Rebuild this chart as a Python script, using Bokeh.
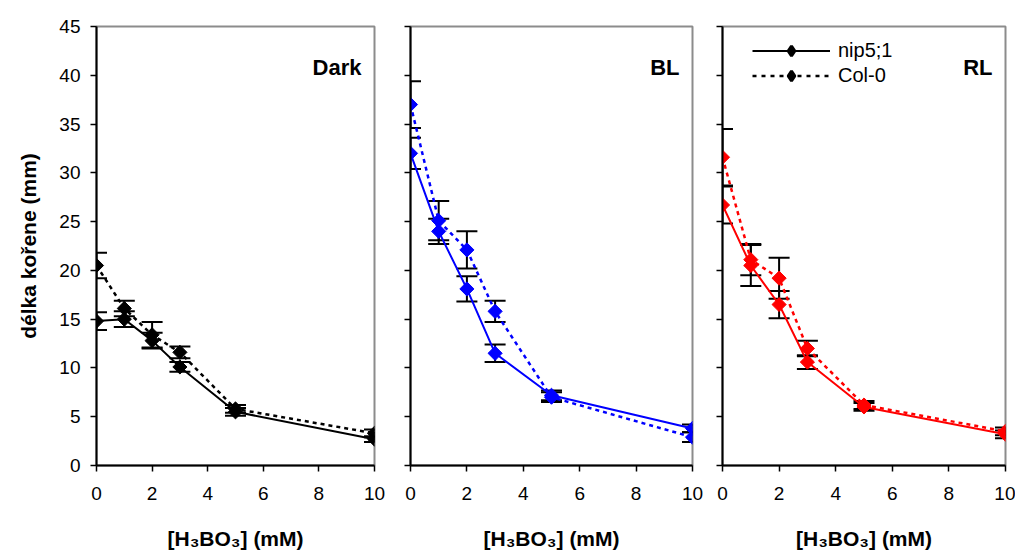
import math
from bokeh.plotting import figure
from bokeh.models import (Range1d, Whisker, TeeHead, ColumnDataSource, Label,
                          Legend, LegendItem, FixedTicker, CustomJSTickFormatter)
from bokeh.layouts import row
from bokeh.embed import file_html
from bokeh.resources import INLINE

# ---------------- data ----------------
conc = [0, 1, 2, 3, 5, 10]
panel_names = ["Dark", "BL", "RL"]
series_names = ["nip5;1", "Col-0"]

dark_nip = [14.8, 15.0, 12.8, 10.1, 5.5, 2.7]
dark_nip_err = [0.9, 0.8, 0.8, 0.5, 0.4, 0.3]
dark_col = [20.5, 16.1, 13.4, 11.6, 5.8, 3.3]
dark_col_err = [1.3, 0.8, 1.3, 0.6, 0.4, 0.4]

bl_nip = [32.0, 24.0, 18.1, 11.5, 7.2, 3.8]
bl_nip_err = [1.6, 1.3, 1.3, 0.9, 0.5, 0.4]
bl_col = [37.0, 25.1, 22.1, 15.8, 7.0, 2.9]
bl_col_err = [2.4, 2.0, 1.9, 1.1, 0.5, 0.5]

rl_nip = [26.7, 20.5, 16.5, 10.6, 6.0, 3.2]
rl_nip_err = [1.9, 2.1, 1.4, 0.7, 0.4, 0.4]
rl_col = [31.6, 21.1, 19.2, 12.0, 6.2, 3.5]
rl_col_err = [2.9, 1.6, 2.1, 0.8, 0.4, 0.4]

x_ticks = [0, 2, 4, 6, 8, 10]
y_ticks = [0, 5, 10, 15, 20, 25, 30, 35, 40, 45]

panel_data = [
    (dark_nip, dark_nip_err, dark_col, dark_col_err),
    (bl_nip, bl_nip_err, bl_col, bl_col_err),
    (rl_nip, rl_nip_err, rl_col, rl_col_err),
]
panel_colors = ["#000000", "#0000FF", "#FF0000"]

FONT = "Liberation Sans"
frame_w = [278, 282, 283]
borders = [(96, 18), (18, 14), (16, 10)]
MARK = dict(marker="square", angle=math.pi / 4, size=10)

figs = []
for i, name in enumerate(panel_names):
    nip, nip_err, col, col_err = panel_data[i]
    color = panel_colors[i]
    p = figure(frame_width=frame_w[i], frame_height=439,
               x_range=Range1d(0, 10), y_range=Range1d(0, 45),
               output_backend="svg", toolbar_location=None,
               min_border_left=borders[i][0], min_border_right=borders[i][1],
               min_border_top=26, min_border_bottom=85)
    p.grid.visible = False
    p.background_fill_color = "white"
    p.border_fill_color = "white"
    p.outline_line_color = "#8c8c8c"
    p.outline_line_width = 2

    p.xaxis.ticker = FixedTicker(ticks=x_ticks)
    p.yaxis.ticker = FixedTicker(ticks=y_ticks)
    for ax in (p.xaxis[0], p.yaxis[0]):
        ax.axis_line_color = "black"
        ax.axis_line_width = 2
        ax.major_tick_line_color = "black"
        ax.major_tick_line_width = 1.5
        ax.major_tick_out = 6
        ax.major_tick_in = 0
        ax.minor_tick_line_color = None
        ax.major_label_text_font = FONT
        ax.major_label_text_font_size = "19px"
        ax.major_label_text_color = "black"
        ax.axis_label_text_font = FONT
        ax.axis_label_text_font_style = "bold"
        ax.axis_label_text_font_size = "21px"
        ax.axis_label_text_color = "black"
    p.xaxis.major_label_standoff = 15
    p.xaxis.axis_label = "[H\u2083BO\u2083] (mM)"
    p.xaxis.axis_label_standoff = 24
    if i == 0:
        p.yaxis.axis_label = "délka kořene (mm)"
        p.yaxis.axis_label_standoff = 16
        p.yaxis.major_label_standoff = 10
    else:
        p.yaxis.formatter = CustomJSTickFormatter(code="return ''")
        p.yaxis.major_label_standoff = 0

    # error bars
    for vals, errs in ((nip, nip_err), (col, col_err)):
        src = ColumnDataSource(dict(
            x=conc,
            upper=[v + e for v, e in zip(vals, errs)],
            lower=[v - e for v, e in zip(vals, errs)],
        ))
        w = Whisker(source=src, base="x", upper="upper", lower="lower",
                    line_color="black", line_width=2, level="underlay",
                    upper_head=TeeHead(size=21, line_color="black", line_width=2),
                    lower_head=TeeHead(size=21, line_color="black", line_width=2))
        p.add_layout(w)

    # lines + markers
    p.line(conc, col, line_color=color, line_width=2.5, line_dash="4 4")
    p.line(conc, nip, line_color=color, line_width=2)
    p.scatter(conc, col, fill_color=color, line_color=color, **MARK)
    p.scatter(conc, nip, fill_color=color, line_color=color, **MARK)

    p.add_layout(Label(x=10, y=40.8, x_offset=-13, text=name, text_align="right",
                       text_baseline="middle", text_font=FONT,
                       text_font_style="bold", text_font_size="22px",
                       text_color="black"))

    if i == 2:
        nan = [float("nan")]
        l1 = p.line(nan, nan, line_color="black", line_width=2)
        m1 = p.scatter(nan, nan, marker="diamond", fill_color="black",
                       line_color="black", line_width=3)
        l2 = p.line(nan, nan, line_color="black", line_width=2.5, line_dash="4 5")
        m2 = p.scatter(nan, nan, marker="diamond", fill_color="black",
                       line_color="black", line_width=3)
        leg = Legend(items=[LegendItem(label=series_names[0], renderers=[l1, m1]),
                            LegendItem(label=series_names[1], renderers=[l2, m2])],
                     location=(30, 377), padding=0, margin=0, spacing=0,
                     glyph_width=78, glyph_height=25, label_height=22,
                     label_standoff=8,
                     label_text_font=FONT, label_text_font_size="20px",
                     label_text_color="black",
                     border_line_color=None, background_fill_alpha=0)
        p.add_layout(leg)
    figs.append(p)

layout = row(*figs)
open("out.html", "w").write(file_html(layout, INLINE))
